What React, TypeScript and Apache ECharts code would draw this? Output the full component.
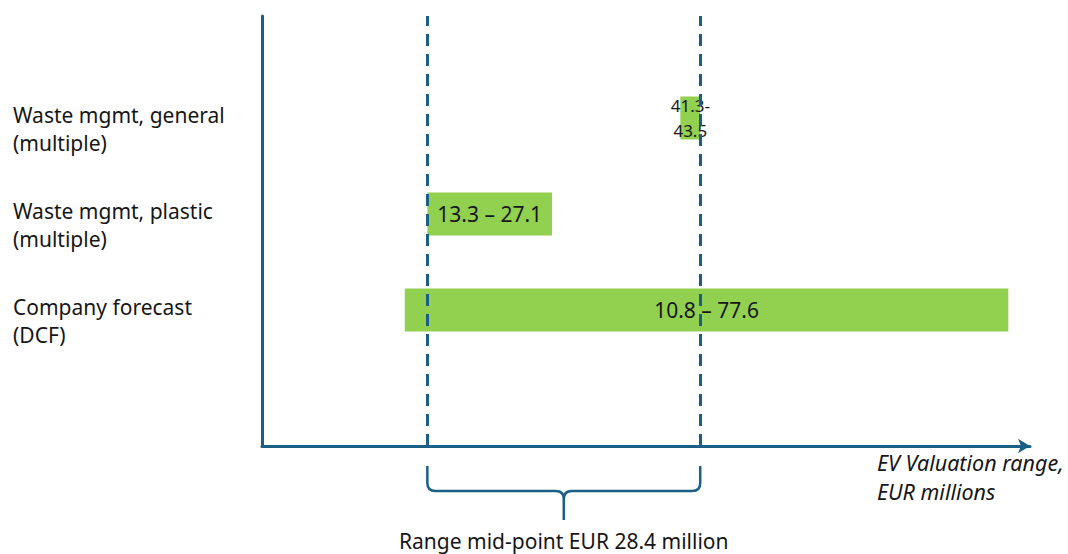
import React, { useEffect, useRef } from "react";
import * as echarts from "echarts";

// Valuation approaches, listed bottom to top as the category axis draws them
const categories = [
  "Company forecast\n(DCF)",
  "Waste mgmt, plastic\n(multiple)",
  "Waste mgmt, general\n(multiple)",
];
// EV range per approach, EUR millions
const rangeLow = [10.8, 13.3, 41.3];
const rangeHigh = [77.6, 27.1, 43.5];
// Bounds of the combined range shown by the dashed guides
const guideValues = [13.3, 43.5];
const midPoint = 28.4;

const AXIS_MIN = -5;
const AXIS_MAX = 80;

const NAVY = "#1b5f86";
const GREEN = "#92d050";
const TEXT = "#161616";
const FONT = "'Noto Sans', 'Open Sans', sans-serif";

const GRID_LEFT = 262;
const GRID_RIGHT = 38;

function rangeLabel(i: number): string {
  const lo = rangeLow[i].toFixed(1);
  const hi = rangeHigh[i].toFixed(1);
  // the narrow bar gets its range split over two lines
  return i === 2 ? `${lo}-\n${hi}` : `${lo} – ${hi}`;
}

export default function App() {
  const ref = useRef<HTMLDivElement>(null);

  useEffect(() => {
    if (!ref.current) return;
    const chart = echarts.init(ref.current, null, { renderer: "svg" });

    const option: any = {
      animation: false,
      backgroundColor: "#ffffff",
      textStyle: { fontFamily: FONT },
      grid: [
        // frame: axes and dashed guides
        { left: GRID_LEFT, right: GRID_RIGHT, top: 16, bottom: 108 },
        // bar rows
        { left: GRID_LEFT, right: GRID_RIGHT, top: 70, bottom: 196 },
      ],
      xAxis: [
        {
          type: "value",
          gridIndex: 0,
          min: AXIS_MIN,
          max: AXIS_MAX,
          axisLine: {
            show: true,
            onZero: false,
            symbol: ["none", "arrow"],
            symbolSize: [11, 12],
            lineStyle: { color: NAVY, width: 3 },
          },
          axisTick: { show: false },
          axisLabel: { show: false },
          splitLine: { show: false },
        },
        {
          type: "value",
          gridIndex: 1,
          min: AXIS_MIN,
          max: AXIS_MAX,
          show: false,
        },
      ],
      yAxis: [
        {
          type: "value",
          gridIndex: 0,
          min: 0,
          max: 1,
          axisLine: {
            show: true,
            onZero: false,
            lineStyle: { color: NAVY, width: 3 },
          },
          axisTick: { show: false },
          axisLabel: { show: false },
          splitLine: { show: false },
        },
        {
          type: "category",
          gridIndex: 1,
          data: categories,
          axisLine: { show: false },
          axisTick: { show: false },
          splitLine: { show: false },
          axisLabel: {
            align: "left",
            margin: GRID_LEFT - 13,
            verticalAlign: "middle",
            fontSize: 21,
            lineHeight: 28,
            color: TEXT,
            fontFamily: FONT,
            // an empty leading row drops the two text lines below the row centre
            formatter: (v: string) => `{gap|}\n${v}`,
            rich: { gap: { height: 22, lineHeight: 22 } },
          },
        },
      ],
      series: [
        {
          name: "base",
          type: "bar",
          xAxisIndex: 1,
          yAxisIndex: 1,
          stack: "range",
          barWidth: 43,
          silent: true,
          itemStyle: { color: "transparent" },
          data: rangeLow,
          z: 2,
        },
        {
          name: "range",
          type: "bar",
          xAxisIndex: 1,
          yAxisIndex: 1,
          stack: "range",
          barWidth: 43,
          itemStyle: { color: GREEN },
          data: rangeHigh.map((hi, i) => {
            const item: any = { value: hi - rangeLow[i] };
            if (i === 2) item.label = { fontSize: 17, lineHeight: 25 };
            return item;
          }),
          label: {
            show: true,
            position: "inside",
            color: TEXT,
            fontSize: 21,
            fontFamily: FONT,
            formatter: (p: any) => rangeLabel(p.dataIndex),
          },
          z: 2,
        },
        {
          name: "guides",
          type: "line",
          xAxisIndex: 0,
          yAxisIndex: 0,
          data: [],
          z: 5,
          markLine: {
            silent: true,
            symbol: ["none", "none"],
            label: { show: false },
            lineStyle: { color: NAVY, width: 3, type: [12, 8] },
            data: guideValues.map((v) => ({ xAxis: v })),
            z: 5,
          },
        },
      ],
    };

    chart.setOption(option);

    // Brace under the axis spanning the combined range, with its mid-point caption
    const x1 = chart.convertToPixel({ xAxisIndex: 0 }, guideValues[0]) as number;
    const x2 = chart.convertToPixel({ xAxisIndex: 0 }, guideValues[1]) as number;
    const m = (x1 + x2) / 2;
    const yTop = 466;
    const yMid = 491;
    const yTip = 520;
    const r = 8;
    const d =
      `M ${x1} ${yTop} L ${x1} ${yMid - r} Q ${x1} ${yMid} ${x1 + r} ${yMid} ` +
      `L ${m - r} ${yMid} Q ${m} ${yMid} ${m} ${yMid + r} L ${m} ${yTip} ` +
      `M ${x2} ${yTop} L ${x2} ${yMid - r} Q ${x2} ${yMid} ${x2 - r} ${yMid} ` +
      `L ${m + r} ${yMid} Q ${m} ${yMid} ${m} ${yMid + r}`;
    echarts.graphic.registerShape("brace", echarts.graphic.extendPath(d, {}));

    chart.setOption({
      graphic: [
        {
          type: "brace",
          x: 0,
          y: 0,
          silent: true,
          style: { stroke: NAVY, fill: "none", lineWidth: 2.5 },
        },
        {
          type: "text",
          x: m,
          y: 541,
          silent: true,
          style: {
            text: `Range mid-point EUR ${midPoint.toFixed(1)} million`,
            fill: TEXT,
            font: `21px ${FONT}`,
            align: "center",
            verticalAlign: "middle",
          },
        },
        {
          type: "text",
          x: 877,
          y: 477,
          silent: true,
          style: {
            text: "EV Valuation range,\nEUR millions",
            fill: TEXT,
            font: `italic 21.5px ${FONT}`,
            lineHeight: 29,
            align: "left",
            verticalAlign: "middle",
          },
        },
      ],
    });

    return () => chart.dispose();
  }, []);

  return (
    <div
      ref={ref}
      style={{ position: "fixed", left: 0, top: 0, width: 1068, height: 554 }}
    />
  );
}
